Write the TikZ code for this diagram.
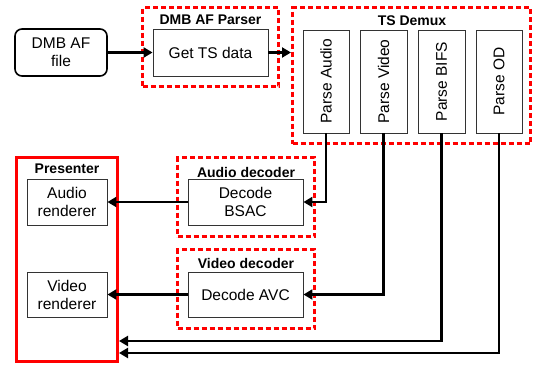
\documentclass[tikz,border=0pt]{standalone}
\usepackage{fontspec}
\setmainfont{Liberation Sans}
\usetikzlibrary{arrows.meta}
\begin{document}
\begin{tikzpicture}[x=1pt,y=-1pt,
  txt/.style={font=\fontsize{15.5}{18}\selectfont, align=center},
  ttl/.style={font=\bfseries\fontsize{14}{16}\selectfont, inner sep=0pt},
  box/.style={draw=black!80, line width=0.9pt, fill=white, txt, inner sep=0pt},
  frame/.style={draw=red, line width=3pt, dash pattern=on 5pt off 3pt, inner sep=0pt},
  pres/.style={draw=red, line width=3pt, inner sep=0pt},
  conn/.style={draw=black, line width=2.9pt, -{Triangle[length=9pt,width=10pt]}}
]
\useasboundingbox (0,0) rectangle (534,367);
% frames
\node[frame, minimum width=136pt, minimum height=79pt] (parser) at (210.5,47) {};
\node[ttl] (parsert) at (210.5,20) {DMB AF Parser};
\node[frame, minimum width=238pt, minimum height=136pt] (demux) at (411.5,75.5) {};
\node[ttl] (demuxt) at (412,21) {TS Demux};
\node[frame, minimum width=137pt, minimum height=79pt] (adec) at (246,197) {};
\node[ttl] (adect) at (246,172) {Audio decoder};
\node[frame, minimum width=137pt, minimum height=79pt] (vdec) at (246,289) {};
\node[ttl] (vdect) at (246,263) {Video decoder};
\node[pres, minimum width=101pt, minimum height=204pt] (pres) at (67,259.5) {};
\node[ttl] (prest) at (67,169) {Presenter};
% boxes
\node[box, draw=black, line width=1.6pt, rounded corners=7pt, minimum width=92pt, minimum height=47pt] (file) at (61,52.5) {DMB AF\\file};
\node[box, minimum width=115pt, minimum height=47pt] (gets) at (210.5,52.5) {Get TS data};
\node[box, minimum width=46pt, minimum height=103pt] (pa) at (326,81.5) {\rotatebox{90}{Parse Audio}};
\node[box, minimum width=47pt, minimum height=103pt] (pv) at (383.5,81.5) {\rotatebox{90}{Parse Video}};
\node[box, minimum width=47pt, minimum height=103pt] (pb) at (441.5,81.5) {\rotatebox{90}{Parse BIFS}};
\node[box, minimum width=46pt, minimum height=103pt] (po) at (499,81.5) {\rotatebox{90}{Parse OD}};
\node[box, minimum width=115pt, minimum height=46pt] (bsac) at (245.5,202) {Decode\\BSAC};
\node[box, minimum width=115pt, minimum height=45pt] (avc) at (245.5,294.5) {Decode AVC};
\node[box, minimum width=80pt, minimum height=46pt] (ar) at (67,202) {Audio\\renderer};
\node[box, minimum width=80pt, minimum height=45pt] (vr) at (67,294.5) {Video\\renderer};
% connectors
\draw[conn] (file.east) -- (gets.west);
\draw[conn] (gets.east) -- (gets.east -| demux.west);
\draw[conn] (pa.south) |- (bsac.east);
\draw[conn] (pv.south) |- (avc.east);
\draw[conn] (pb.south) |- ([yshift=22pt]pres.south east);
\draw[conn] (po.south) |- ([yshift=10pt]pres.south east);
\draw[conn] (bsac.west) -- (ar.east);
\draw[conn] (avc.west) -- (vr.east);
\end{tikzpicture}
\end{document}
